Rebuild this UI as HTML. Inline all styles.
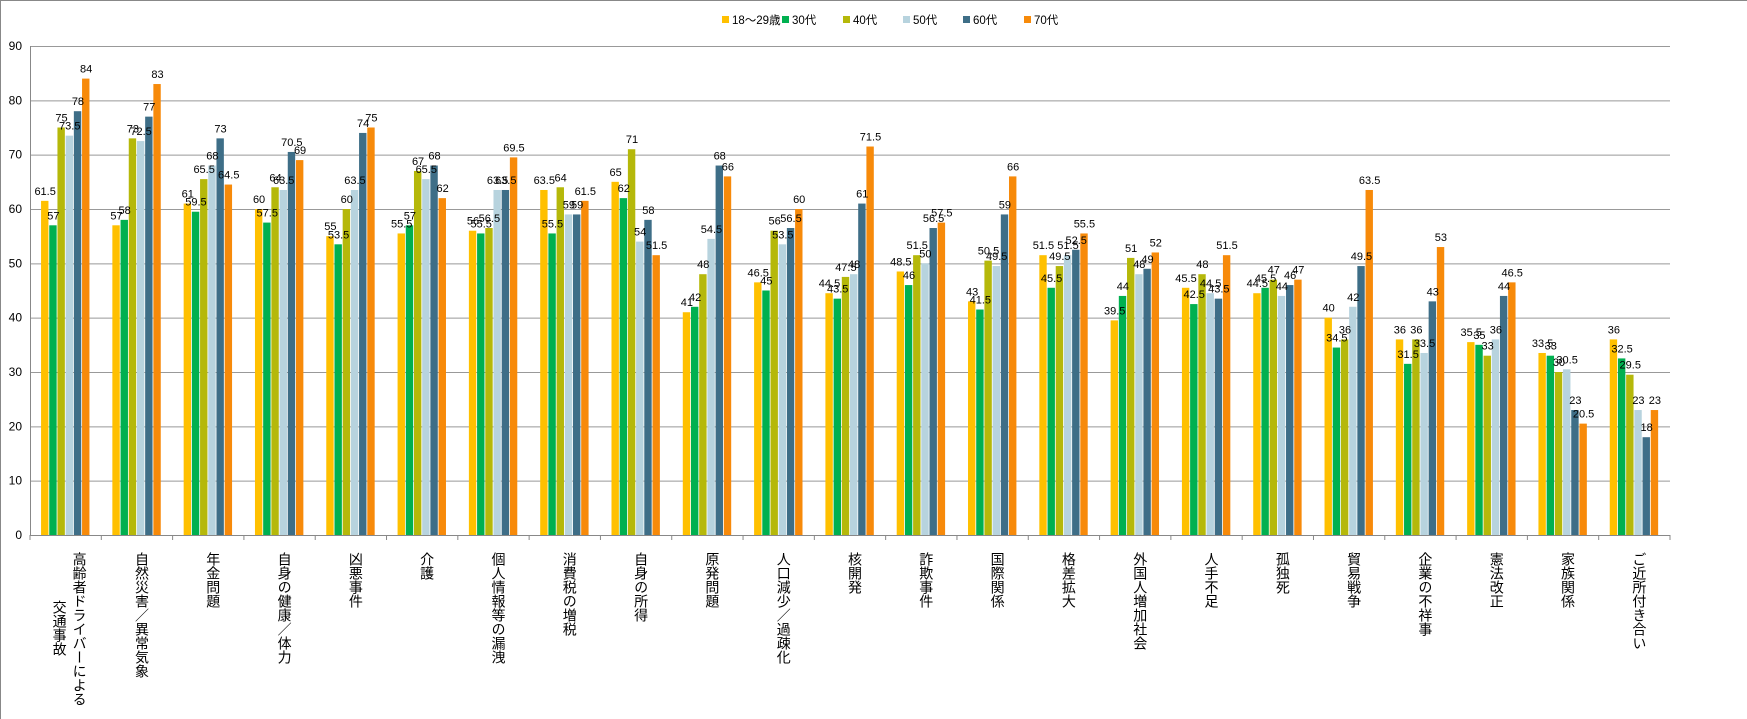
<!DOCTYPE html>
<html><head><meta charset="utf-8"><style>
html,body{margin:0;padding:0;background:#fff;}
svg{display:block;font-family:"Liberation Sans","Noto Sans CJK JP",sans-serif;}
</style></head><body>
<svg id="chart" width="1747" height="719">
<line x1="0" y1="0.5" x2="1747" y2="0.5" stroke="#888"/>
<line x1="0.5" y1="0" x2="0.5" y2="719" stroke="#888"/>
<g id="legend"></g>
<g id="grid"></g>
<g id="bars"></g>
<g id="labels"></g>
<g id="axis"></g>
</svg>
<script>
const categories=["高齢者ドライバーによる|交通事故","自然災害／異常気象","年金問題","自身の健康／体力","凶悪事件","介護","個人情報等の漏洩","消費税の増税","自身の所得","原発問題","人口減少／過疎化","核開発","詐欺事件","国際関係","格差拡大","外国人増加社会","人手不足","孤独死","貿易戦争","企業の不祥事","憲法改正","家族関係","ご近所付き合い"];
const seriesNames=["18〜29歳","30代","40代","50代","60代","70代"];
const s18=[61.5,57,61,60,55,55.5,56,63.5,65,41,46.5,44.5,48.5,43,51.5,39.5,45.5,44.5,40,36,35.5,33.5,36];
const s30=[57,58,59.5,57.5,53.5,57,55.5,55.5,62,42,45,43.5,46,41.5,45.5,44,42.5,45.5,34.5,31.5,35,33,32.5];
const s40=[75,73,65.5,64,60,67,56.5,64,71,48,56,47.5,51.5,50.5,49.5,51,48,47,36,36,33,30,29.5];
const s50=[73.5,72.5,68,63.5,63.5,65.5,63.5,59,54,54.5,53.5,48,50,49.5,51.5,48,44.5,44,42,33.5,36,30.5,23];
const s60=[78,77,73,70.5,74,68,63.5,59,58,68,56.5,61,56.5,59,52.5,49,43.5,46,49.5,43,44,23,18];
const s70=[84,83,64.5,69,75,62,69.5,61.5,51.5,66,60,71.5,57.5,66,55.5,52,51.5,47,63.5,53,46.5,20.5,23];
const yTicks=[0,10,20,30,40,50,60,70,80,90];
const series=[s18,s30,s40,s50,s60,s70];
const colors=["#FFC000","#00B050","#B5B80A","#B7D3DE","#3E6E87","#F78A0A"];
const NS="http://www.w3.org/2000/svg";
const X0=30,X1=1670,Y0=535,Y90=46,YMAX=90;
const gw=(X1-X0)/categories.length, bw=8.2;
const y=v=>Y0-(v/YMAX)*(Y0-Y90);
const gx=i=>X0+i*gw+(gw-6*bw)/2;
function mk(tag,attrs,parent){const e=document.createElementNS(NS,tag);for(const k in attrs)e.setAttribute(k,attrs[k]);parent.appendChild(e);return e;}
const G=id=>document.getElementById(id);
yTicks.forEach(t=>{
  const l=mk('line',{x1:X0,x2:X1,y1:y(t)+0.5,y2:y(t)+0.5,stroke:t===0?'#888':'#999','stroke-width':1},G('grid'));
  
  
  const tx=mk('text',{x:X0-8,y:y(t)+4,'text-anchor':'end','font-size':12,fill:'#000'},G('grid'));
  tx.textContent=t;
  
  
});
mk('line',{x1:X0+0.5,x2:X0+0.5,y1:Y90,y2:Y0,stroke:'#888'},G('grid'));
categories.forEach((c,i)=>{
  series.forEach((s,j)=>{
    const v=s[i];
    const r=mk('rect',{x:gx(i)+j*bw,y:y(v),width:bw-0.8,height:Y0-y(v),fill:colors[j]},G('bars'));
    
    
    const t=mk('text',{x:gx(i)+j*bw+bw/2,y:y(v)-6,'text-anchor':'middle','font-size':11,fill:'#000'},G('labels'));
    t.textContent=v;
    
    
  });
  const tk=mk('line',{x1:X0+i*gw,x2:X0+i*gw,y1:Y0,y2:Y0+5,stroke:'#888'},G('axis'));
  
  
  const parts=c.split('|');
  const cx=X0+(i+0.5)*gw+5;
  parts.forEach((p,k)=>{
    const t=mk('text',{x:cx+(parts.length>1?(k===0?9:-11):0),y:k===0?552:600,'font-size':14,fill:'#000',style:'writing-mode:vertical-rl;glyph-orientation-vertical:0'},G('axis'));
    t.textContent=p;
    
    
  });
});
mk('line',{x1:X1,x2:X1,y1:Y0,y2:Y0+5,stroke:'#888'},G('axis'));
const legX=[722,782,843,903,963,1024];
seriesNames.forEach((n,j)=>{
  const r=mk('rect',{x:legX[j],y:16,width:7,height:7,fill:colors[j]},G('legend'));
  
  
  const t=mk('text',{x:legX[j]+10,y:24,'font-size':11.5,fill:'#000'},G('legend'));
  t.textContent=n;
  
  
});
</script>
</body></html>
